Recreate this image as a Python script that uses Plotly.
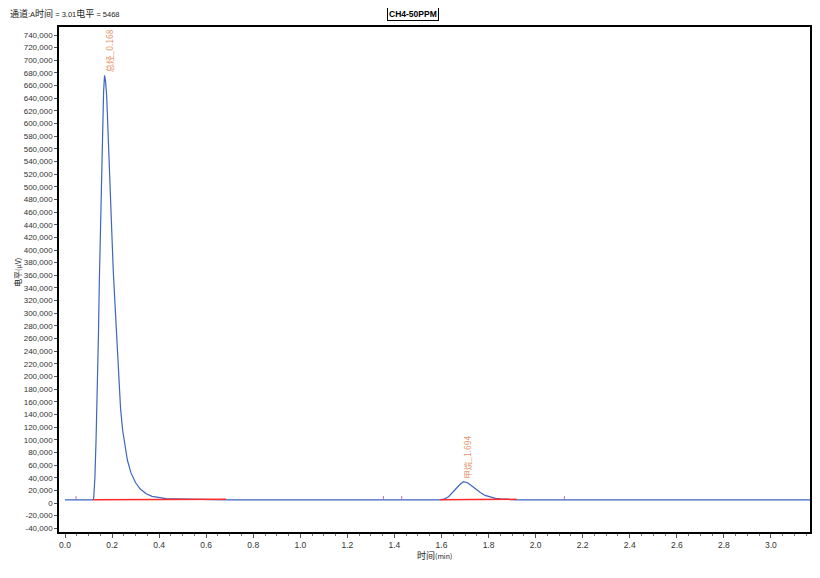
import plotly.graph_objects as go

# chromatogram signal (time in min, level in µV)
time_min = [0.000, 0.119, 0.122, 0.127, 0.132, 0.137, 0.142, 0.146, 0.150, 0.155, 0.160,
            0.164, 0.168, 0.172, 0.177, 0.184, 0.191, 0.198, 0.205, 0.212, 0.220, 0.228,
            0.236, 0.245, 0.255, 0.265, 0.280, 0.300, 0.320, 0.345, 0.370, 0.400, 0.430,
            0.467, 0.680, 0.686,
            1.590, 1.610, 1.630, 1.650, 1.665, 1.680, 1.694, 1.710, 1.725, 1.745, 1.765,
            1.785, 1.810, 1.830, 1.850, 1.915, 1.921, 3.166]
level_uv = [5000, 5000, 8000, 40000, 100000, 170000, 263000, 352000, 430000, 530000, 600000,
            650000, 676000, 668000, 645000, 569000, 506000, 437000, 368000, 318000, 262000, 200000,
            150000, 115000, 88000, 68000, 48000, 32000, 22000, 14500, 10500, 8200, 7000,
            6500, 6000, 5000,
            5000, 6000, 10000, 17900, 24000, 30000, 33700, 32000, 28000, 22000, 16500,
            12000, 8800, 7200, 6400, 6000, 5000, 5000]

# integration baselines
base1_t = [0.120, 0.684]
base1_v = [5000, 6000]
base2_t = [1.594, 1.919]
base2_v = [5000, 5800]

# peaks
peak_names = ["总烃_0.168", "甲烷_1.694"]
peak_t = [0.168, 1.694]
peak_v = [676000, 33700]

# event marks
event_t = [0.047, 1.353, 1.431, 2.122]
event_lo = 5000
event_hi = 11000

y_ticks = list(range(-40000, 740001, 20000))
y_labels = [f"{v:,}" for v in y_ticks]
x_ticks = [round(i * 0.2, 1) for i in range(16)]
x_labels = [f"{v:.1f}" for v in x_ticks]

FONT = "Liberation Sans, Arial, Noto Sans CJK SC, sans-serif"
CJK = "Noto Sans CJK SC, Liberation Sans, sans-serif"

fig = go.Figure()
fig.add_trace(go.Scatter(x=time_min, y=level_uv, mode="lines",
                         line=dict(color="#3d66c0", width=1.2), hoverinfo="skip"))
fig.add_trace(go.Scatter(x=base1_t, y=base1_v, mode="lines",
                         line=dict(color="#ff2a2a", width=1.5), hoverinfo="skip"))
fig.add_trace(go.Scatter(x=base2_t, y=base2_v, mode="lines",
                         line=dict(color="#ff2a2a", width=1.5), hoverinfo="skip"))
ex, ey = [], []
for t in event_t:
    ex += [t, t, None]
    ey += [event_lo, event_hi, None]
fig.add_trace(go.Scatter(x=ex, y=ey, mode="lines",
                         line=dict(color="#b070b0", width=1), hoverinfo="skip"))

for name, t, v in zip(peak_names, peak_t, peak_v):
    fig.add_annotation(x=t, y=v, text=name, showarrow=False, textangle=-90,
                       xanchor="center", yanchor="bottom", xshift=4, yshift=1,
                       font=dict(family=CJK, size=8.5, color="#e8946c"))

small = "<span style='font-size:7.5px;font-family:Liberation Sans'>{}</span>"
title_html = ("通道" + small.format(":A") + "时间" + small.format(" = 3.01") +
              "电平" + small.format(" = 5468"))
fig.add_annotation(xref="paper", yref="paper", x=0, y=1, xanchor="left", yanchor="middle",
                   xshift=-51, yshift=14, text=title_html, showarrow=False,
                   font=dict(family=CJK, size=9, color="#222"))
fig.add_annotation(xref="paper", yref="paper", x=0.471, y=1, xanchor="center", yanchor="middle",
                   yshift=13,
                   text="<b>CH4-50PPM</b>", showarrow=False, bordercolor="#000", borderwidth=1,
                   borderpad=1, bgcolor="#fff",
                   font=dict(family=FONT, size=8.5, color="#000"))
# axis titles
fig.add_annotation(xref="paper", yref="paper", x=0.5, y=0, xanchor="center", yanchor="middle",
                   yshift=-23, showarrow=False,
                   text="时间<span style='font-size:7px'>(min)</span>",
                   font=dict(family=CJK, size=9, color="#222"))
fig.add_annotation(xref="paper", yref="paper", x=0, y=0.513, xanchor="center", yanchor="middle",
                   xshift=-41, textangle=-90, showarrow=False,
                   text="电平<span style='font-size:7px'>(μV)</span>",
                   font=dict(family=CJK, size=8, color="#222"))

fig.update_layout(
    width=812, height=570,
    margin=dict(l=51, r=10, t=19, b=46, autoexpand=False),
    paper_bgcolor="white", plot_bgcolor="white",
    showlegend=False,
    font=dict(family=FONT, size=8, color="#333"),
)
fig.update_xaxes(range=[-0.0255, 3.166], tickvals=x_ticks, ticktext=x_labels, automargin=False,
                 showgrid=False, zeroline=False, showline=True, linecolor="#000", linewidth=1.5,
                 mirror=True, ticks="outside", ticklen=4, tickcolor="#555",
                 minor=dict(dtick=0.05, ticks="outside", ticklen=2, tickcolor="#777"),
                 tickfont=dict(size=8.5, color="#333"))
fig.update_yaxes(range=[-45850, 752650], tickvals=y_ticks, ticktext=y_labels, automargin=False,
                 showgrid=False, zeroline=False, showline=True, linecolor="#000", linewidth=1.5,
                 mirror=True, ticks="outside", ticklen=3, tickcolor="#555",
                 tickfont=dict(size=8, color="#333"))

fig.write_html("out.html")
